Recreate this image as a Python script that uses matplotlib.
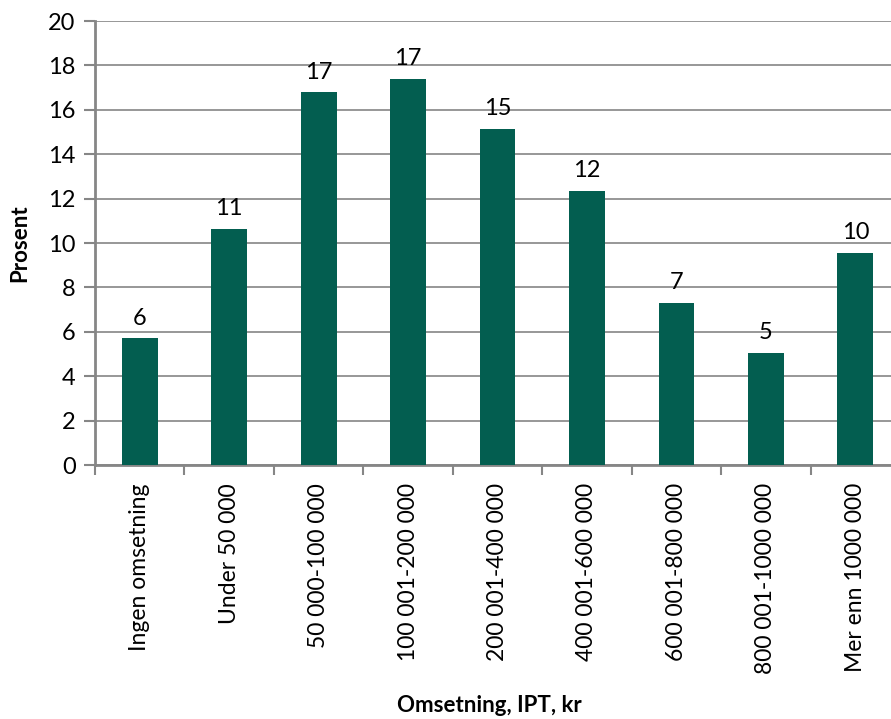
import matplotlib
matplotlib.use("Agg")
import matplotlib.pyplot as plt
import numpy as np

categories = ["Ingen omsetning", "Under 50 000", "50 000-100 000", "100 001-200 000",
              "200 001-400 000", "400 001-600 000", "600 001-800 000",
              "800 001-1000 000", "Mer enn 1000 000"]
values = [5.7, 10.65, 16.78, 17.4, 15.15, 12.35, 7.3, 5.05, 9.57]
labels = ["6", "11", "17", "17", "15", "12", "7", "5", "10"]
yticks = [0, 2, 4, 6, 8, 10, 12, 14, 16, 18, 20]

W, H = 891, 719
fig = plt.figure(figsize=(W / 100, H / 100), dpi=100)
left, right, top, bottom = 95, 900, 21, 465
ax = fig.add_axes([left / W, 1 - bottom / H, (right - left) / W, (bottom - top) / H])

x = np.arange(len(categories))
ax.bar(x, values, width=0.40, color="#035E50", zorder=3)
ax.set_xlim(-0.5, len(categories) - 0.5)
ax.set_ylim(0, 20)
ax.set_yticks(yticks)
ax.set_yticklabels([str(t) for t in yticks], fontfamily="Lato", fontsize=17)
ax.yaxis.grid(True, color="#979797", linewidth=1.4, zorder=0)
ax.set_axisbelow(True)

for s in ["top", "right"]:
    ax.spines[s].set_visible(False)
for s in ["left", "bottom"]:
    ax.spines[s].set_color("#868686")
    ax.spines[s].set_linewidth(2)
ax.tick_params(axis="y", length=8, width=1.5, color="#868686", pad=6)

ax.set_xticks(np.arange(len(categories) + 1) - 0.5, minor=True)
ax.set_xticks(x)
ax.set_xticklabels(categories, rotation=90, fontfamily="Lato", fontsize=16.5)
ax.tick_params(axis="x", which="major", length=0, pad=13)
ax.tick_params(axis="x", which="minor", length=7, width=1.5, color="#868686")

for xi, v, lab in zip(x, values, labels):
    ax.annotate(lab, (xi, v), xytext=(0, 7), textcoords="offset points",
                ha="center", va="bottom", fontfamily="Lato", fontsize=17)

fig.text(20 / W, 1 - 243 / H, "Prosent", rotation=90, ha="center", va="center",
         fontfamily="Lato", fontweight="bold", fontsize=16)
fig.text(489 / W, 1 - 706 / H, "Omsetning, IPT, kr", ha="center", va="center",
         fontfamily="Lato", fontweight="bold", fontsize=16)

fig.savefig("out.png", dpi=100)
